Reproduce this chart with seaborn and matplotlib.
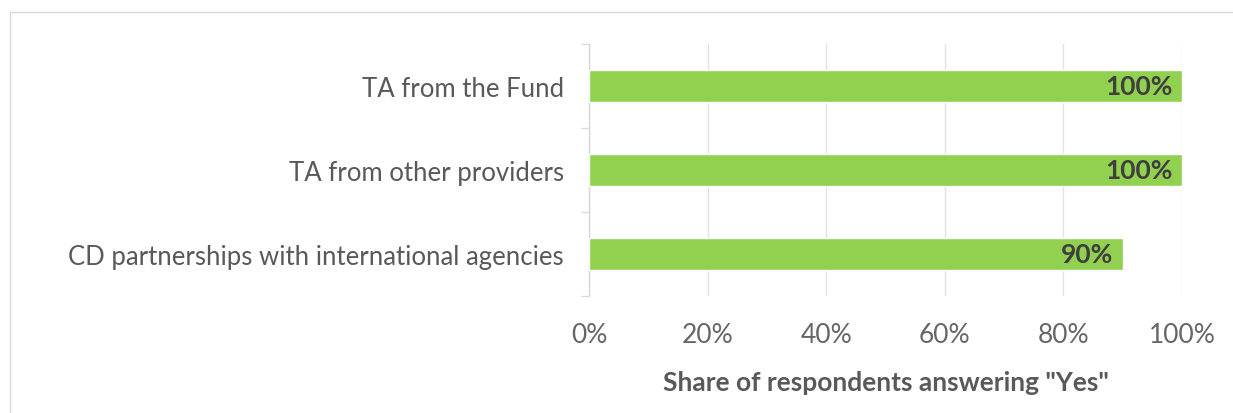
import matplotlib
matplotlib.use("Agg")
import matplotlib.pyplot as plt
import seaborn as sns
import pandas as pd
from matplotlib.lines import Line2D
from matplotlib.ticker import PercentFormatter

# Survey results
categories = [
    "TA from the Fund",
    "TA from other providers",
    "CD partnerships with international agencies",
]
shares = [100, 100, 90]
x_ticks = [0, 20, 40, 60, 80, 100]
x_label = 'Share of respondents answering "Yes"'

df = pd.DataFrame({"category": categories, "share": shares})

sns.set_theme(style="white")
plt.rcParams["font.family"] = ["Lato", "DejaVu Sans"]

fig = plt.figure(figsize=(12.33, 4.14), dpi=100)
ax = fig.add_axes([0.4777, 0.2826, 0.4809, 0.6087])

sns.barplot(data=df, x="share", y="category", color="#92D050",
            saturation=1, width=0.38, ax=ax, zorder=3)

ax.set_xlim(0, 100)
ax.set_ylim(2.5, -0.5)
ax.set_xticks(x_ticks)
ax.xaxis.set_major_formatter(PercentFormatter(decimals=0))
ax.grid(axis="x", color="#e3e3e3", linewidth=1, zorder=0)
ax.grid(axis="y", visible=False)

for side in ["top", "right", "bottom"]:
    ax.spines[side].set_visible(False)
ax.spines["left"].set_color("#d9d9d9")
ax.spines["left"].set_linewidth(1)

# minor ticks on the category axis sit between the bars
ax.set_yticks([-0.5, 0.5, 1.5, 2.5], minor=True)
ax.tick_params(axis="y", which="minor", left=True, length=6, color="#d9d9d9", width=1)
ax.tick_params(axis="y", which="major", left=False, pad=12, labelsize=18.5, labelcolor="#595959")
ax.tick_params(axis="x", which="major", bottom=False, pad=13, labelsize=19, labelcolor="#666666")

ax.set_ylabel("")
ax.set_xlabel(x_label, fontsize=19, fontweight="bold", color="#595959", labelpad=16)

for cont in ax.containers:
    ax.bar_label(cont, labels=[f"{v:.0f}%" for v in shares], padding=-7,
                 fontsize=19, fontweight="bold", color="#3f3f3f", zorder=5)
for t in ax.texts:
    t.set_horizontalalignment("right")

# chart frame
fig.add_artist(Line2D([0.0081, 1.0], [0.9686, 0.9686], transform=fig.transFigure,
                      color="#d9d9d9", linewidth=1))
fig.add_artist(Line2D([0.0081, 0.0081], [0.0, 0.9686], transform=fig.transFigure,
                      color="#d9d9d9", linewidth=1))

fig.savefig("out.png", dpi=100, facecolor="white")
